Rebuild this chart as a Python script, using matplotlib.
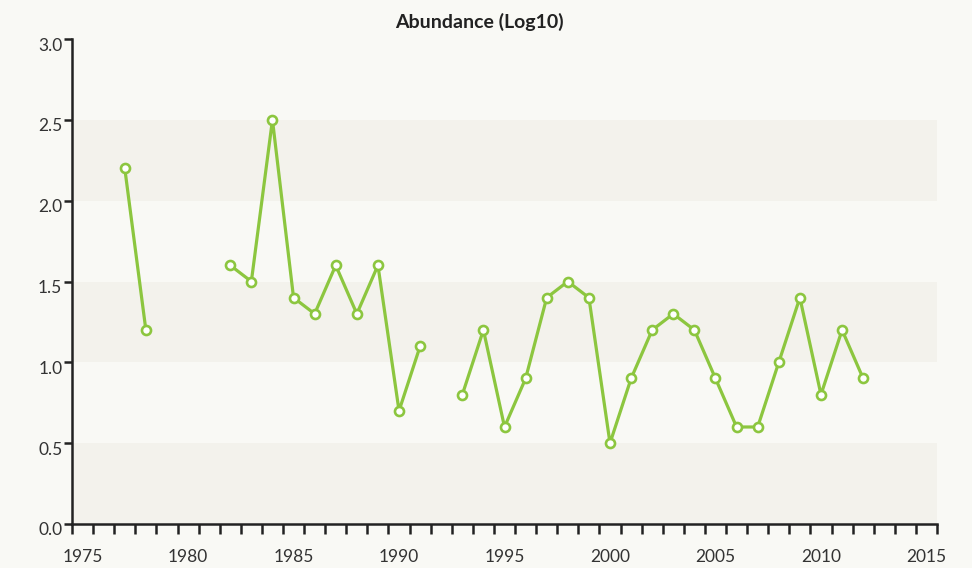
import numpy as np
import matplotlib
matplotlib.use("Agg")
import matplotlib.pyplot as plt
import matplotlib.transforms as mtransforms

# abundance series (log10), NaN = no survey
years = list(range(1977, 2013))
abundance = [2.2, 1.2, np.nan, np.nan, np.nan, 1.6, 1.5, 2.5, 1.4, 1.3,
             1.6, 1.3, 1.6, 0.7, 1.1, np.nan, 0.8, 1.2, 0.6, 0.9,
             1.4, 1.5, 1.4, 0.5, 0.9, 1.2, 1.3, 1.2, 0.9, 0.6,
             0.6, 1.0, 1.4, 0.8, 1.2, 0.9]

x_labels = [1975, 1980, 1985, 1990, 1995, 2000, 2005, 2010, 2015]
y_ticks = [0.0, 0.5, 1.0, 1.5, 2.0, 2.5, 3.0]
bands = [(0.0, 0.5), (1.0, 1.5), (2.0, 2.5)]

plt.rcParams['font.family'] = ['Lato', 'DejaVu Sans']

bg = "#f9f9f5"
axis_col = "#222222"
fig = plt.figure(figsize=(9.72, 5.68), dpi=100, facecolor=bg)
ax = fig.add_axes([0.0741, 0.0775, 0.8899, 0.8538])
ax.set_facecolor(bg)

# each year is a slot; year value sits in the middle of it
ax.set_xlim(1974.5, 2015.5)
ax.set_ylim(0, 3.0)

for lo, hi in bands:
    ax.axhspan(lo, hi, color="#f3f2ec", lw=0, zorder=0)

ax.plot(years, abundance, color="#8cc63f", lw=2.3, marker="o", ms=6.5,
        mfc="white", mec="#8cc63f", mew=1.9, zorder=3, clip_on=False)

# labels at the year, tick marks at slot edges
ax.set_xticks(x_labels)
ax.set_xticks(np.arange(1974.5, 2016, 1.0), minor=True)
ax.set_yticks(y_ticks)
ax.set_yticklabels([f"{v:.1f}" for v in y_ticks])

for s in ["top", "right"]:
    ax.spines[s].set_visible(False)
for s in ["left", "bottom"]:
    ax.spines[s].set_color(axis_col)
    ax.spines[s].set_linewidth(1.8)

ax.tick_params(axis="x", which="major", length=0, labelsize=12.5,
               labelcolor="#333333", pad=18)
ax.tick_params(axis="x", which="minor", direction="out", length=7.5,
               width=1.8, color=axis_col)
ax.tick_params(axis="y", direction="out", length=6, width=1.8, color=axis_col,
               labelsize=12.5, labelcolor="#333333", pad=1)

# y labels sit a little below their ticks
shift = mtransforms.ScaledTranslation(0, -5 / 100, fig.dpi_scale_trans)
for lab in ax.get_yticklabels():
    lab.set_transform(lab.get_transform() + shift)

fig.text(479.5 / 972, 1 - 22 / 568, "Abundance (Log10)", fontsize=14,
         fontweight="bold", color=axis_col, ha="center", va="center")

fig.savefig("out.png", dpi=100, facecolor=bg)
